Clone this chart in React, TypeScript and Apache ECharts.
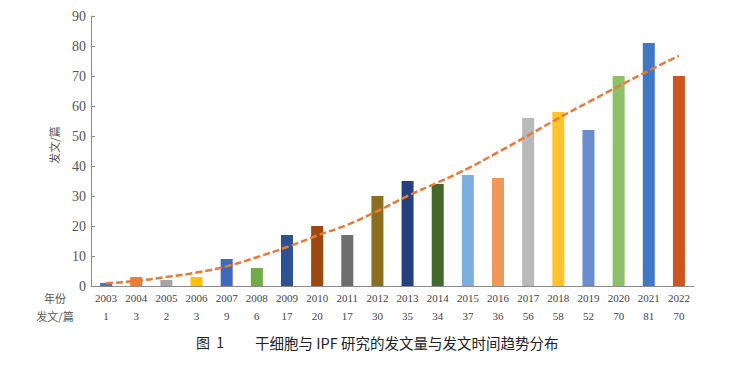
import React, { useEffect, useRef } from "react";
import * as echarts from "echarts";

const years = ["2003","2004","2005","2006","2007","2008","2009","2010","2011","2012","2013","2014","2015","2016","2017","2018","2019","2020","2021","2022"];
const counts = [1,3,2,3,9,6,17,20,17,30,35,34,37,36,56,58,52,70,81,70];
const trend = [0.9,1.7,3.0,4.5,6.6,9.6,13.0,16.8,20.4,25.0,30.0,34.5,39.2,44.6,50.2,55.9,61.3,66.6,71.8,76.7];
const barColors = ["#4472C4","#ED7D31","#A5A5A5","#FFC000","#4169B9","#70AD47","#2C5294","#9E480E","#6E6E6E","#8C6F1E","#253F7F","#43682B","#7CAFDD","#F1975A","#B9B9B9","#FFC32E","#698ED0","#8CC168","#3F79C6","#CC5520"];
const yTicks = { min: 0, max: 90, interval: 10 };
const yName = "发文/篇";
const rowLabelYear = "年份";
const rowLabelCount = "发文/篇";
const captionNo = "图  1";
const captionText = "干细胞与 IPF 研究的发文量与发文时间趋势分布";

const serif = "'Liberation Serif', 'DejaVu Serif', serif";
const cjk = "'Noto Sans CJK SC', sans-serif";

export default function App() {
  const ref = useRef<HTMLDivElement>(null);
  useEffect(() => {
    if (!ref.current) return;
    const chart = echarts.init(ref.current, null, { renderer: "svg" });
    chart.setOption({
      animation: false,
      backgroundColor: "#ffffff",
      grid: { left: 91, right: 42, top: 16, bottom: 81, containLabel: false },
      xAxis: {
        type: "category",
        data: years,
        axisLine: { lineStyle: { color: "#8a8a8a", width: 1 } },
        axisTick: { show: false },
        axisLabel: {
          interval: 0,
          margin: 3,
          formatter: (v: string, i: number) => `{y|${v}}\n{c|${counts[i]}}`,
          rich: {
            y: { fontFamily: serif, fontSize: 11, color: "#444", lineHeight: 18 },
            c: { fontFamily: serif, fontSize: 11, color: "#444", lineHeight: 18 },
          },
        },
      },
      yAxis: {
        type: "value",
        min: yTicks.min,
        max: yTicks.max,
        interval: yTicks.interval,
        splitLine: { show: false },
        axisLine: { show: true, lineStyle: { color: "#8a8a8a", width: 1 } },
        axisTick: { show: true, inside: true, length: 4, lineStyle: { color: "#8a8a8a" } },
        axisLabel: { fontFamily: serif, fontSize: 14, color: "#555", margin: 5 },
      },
      series: [
        {
          type: "bar",
          barWidth: 12,
          data: counts.map((v, i) => ({ value: v, itemStyle: { color: barColors[i] } })),
          z: 2,
        },
        {
          type: "line",
          data: trend,
          smooth: true,
          symbol: "none",
          lineStyle: { color: "#E97A35", width: 2.5, type: [7, 3] },
          z: 3,
        },
      ],
      graphic: [
        {
          type: "text",
          x: 54,
          y: 145,
          rotation: Math.PI / 2,
          style: { text: yName, fontFamily: cjk, fontSize: 11, fill: "#555", align: "center", verticalAlign: "middle" },
        },
        {
          type: "text",
          x: 55,
          y: 298,
          style: { text: rowLabelYear, fontFamily: cjk, fontSize: 11, fill: "#555", align: "center", verticalAlign: "middle" },
        },
        {
          type: "text",
          x: 55,
          y: 316,
          style: { text: rowLabelCount, fontFamily: cjk, fontSize: 11, fill: "#555", align: "center", verticalAlign: "middle" },
        },
        {
          type: "text",
          x: 196,
          y: 342,
          style: { text: captionNo, fontFamily: cjk, fontSize: 14, fill: "#222", align: "left", verticalAlign: "middle" },
        },
        {
          type: "text",
          x: 255,
          y: 342,
          style: { text: captionText, fontFamily: cjk, fontSize: 14.5, fill: "#222", align: "left", verticalAlign: "middle" },
        },
      ],
    });
    return () => chart.dispose();
  }, []);
  return <div ref={ref} style={{ position: "absolute", left: 0, top: 0, width: 736, height: 367 }} />;
}
